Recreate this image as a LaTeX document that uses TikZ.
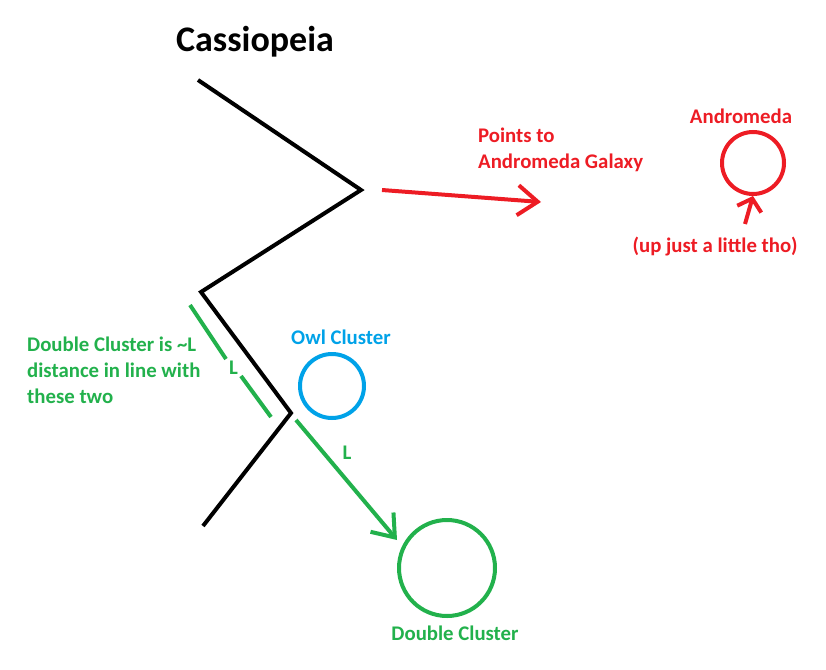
\documentclass[tikz,border=0pt]{standalone}
\usepackage{fontspec}
\setmainfont{Carlito}
\usepackage{xcolor}
\usetikzlibrary{positioning,arrows.meta,calc}
\definecolor{paintred}{HTML}{ED1C24}
\definecolor{paintblue}{HTML}{00A2E8}
\definecolor{paintgreen}{HTML}{22B14C}
\tikzset{
  stick/.style={line width=4pt},
  barb/.style={-{Straight Barb[length=20pt,width=30pt]}},
  note/.style={font=\bfseries\fontsize{20.8}{26}\selectfont,inner sep=0pt},
  blob/.style={circle,draw,line width=4pt,inner sep=0pt},
}
\begin{document}
\begin{tikzpicture}[x=1pt,y=-1pt]
\useasboundingbox (0,0) rectangle (826,669);

% the W
\node[font=\bfseries\fontsize{36}{42}\selectfont,inner sep=0pt] (title) at (255,42) {Cassiopeia};
\coordinate (w1) at (198,80);
\coordinate (w2) at (361,190);
\coordinate (w3) at (201,292);
\coordinate (w4) at (291,413);
\coordinate (w5) at (203,526);
\draw[stick] (w1) -- (w2) -- (w3) -- (w4) -- (w5);

% Andromeda
\node[blob,draw=paintred,minimum size=62pt] (andro) at (753,163) {};
\node[note,text=paintred] (androlbl) at (741,116) {Andromeda};
\node[note,text=paintred] (uplbl) at (715,247) {(up just a little tho)};
\coordinate (upfoot) at (745,224);
\draw[stick,paintred,-{Straight Barb[length=11pt,width=25pt]}] (upfoot) -- (andro.south);

\node[note,text=paintred,align=left,anchor=north west] (ptlbl) at (478,128) {Points to\\Andromeda Galaxy};
\coordinate (ptfrom) at (382,190);
\coordinate (ptto) at (541,202);
\draw[stick,paintred,barb] (ptfrom) -- (ptto);

% Owl Cluster
\node[blob,draw=paintblue,minimum size=64pt] (owl) at (332,386) {};
\node[note,text=paintblue] (owllbl) at (341,337) {Owl Cluster};

% Double Cluster
\node[blob,draw=paintgreen,minimum size=96pt] (dbl) at (447,568) {};
\node[note,text=paintgreen] (dbllbl) at (455,633) {Double Cluster};
\coordinate (dblfrom) at (296,420);
\coordinate (dblto) at (397,540);
\draw[stick,paintgreen,barb] (dblfrom) -- (dblto);
\node[note,text=paintgreen] (arrowL) at (347,453) {L};

\coordinate (ga) at (190,305);
\coordinate (gb) at (226,359);
\coordinate (gc) at (241,376);
\coordinate (gd) at (271,417);
\draw[stick,paintgreen] (ga) -- (gb) (gc) -- (gd);
\node[note,text=paintgreen] (sideL) at ($(gb)!0.5!(gc)$) {L};

\node[note,text=paintgreen,align=left,anchor=north west] (dbltxt) at (27,337) {Double Cluster is \textasciitilde L\\distance in line with\\these two};
\end{tikzpicture}
\end{document}
